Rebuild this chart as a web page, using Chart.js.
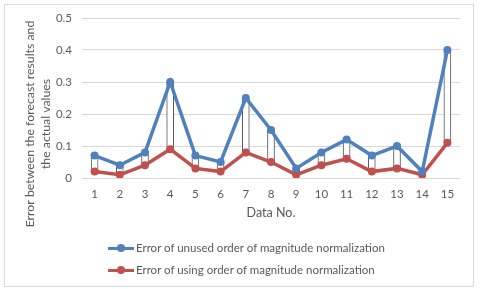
<!DOCTYPE html>
<html>
<head>
<meta charset="utf-8">
<script src="https://cdn.jsdelivr.net/npm/chart.js@4"></script>
<style>
  body { margin: 0; background: #fff; }
  #wrap { position: relative; width: 480px; height: 289px; }
  #frame { position: absolute; left: 4px; top: 4px; width: 468px; height: 281px; border: 1px solid #d9d9d9; }
  #legend { position: absolute; left: 108px; top: 237px; font-family: Lato, sans-serif; font-size: 11.5px; color: #595959; }
  .item { height: 22px; line-height: 16px; display: flex; align-items: center; }
  .swatch { position: relative; width: 26px; height: 8px; margin-right: 2px; }
  .swatch .ln { position: absolute; left: 0; top: 3px; width: 26px; height: 3px; }
  .swatch .dot { position: absolute; left: 9px; top: 0; width: 8px; height: 8px; border-radius: 50%; }
</style>
</head>
<body>
<div id="wrap">
  <div id="frame"></div>
  <canvas id="chart"></canvas>
  <div id="legend"></div>
</div>
<script>
var labels = ['1', '2', '3', '4', '5', '6', '7', '8', '9', '10', '11', '12', '13', '14', '15']
var unusedErr = [0.07, 0.04, 0.08, 0.30, 0.07, 0.05, 0.25, 0.15, 0.03, 0.08, 0.12, 0.07, 0.10, 0.02, 0.40]
var usingErr = [0.02, 0.01, 0.04, 0.09, 0.03, 0.02, 0.08, 0.05, 0.01, 0.04, 0.06, 0.02, 0.03, 0.01, 0.11]
var seriesNames = ['Error of unused order of magnitude normalization', 'Error of using order of magnitude normalization']
var yTitle = ['Error between the forecast results and', 'the actual values']
var xTitle = 'Data No.'

var blue = '#4f81bd'
var red = '#c0504d'
var txt = '#595959'

// up/down bars between the two series
var spans = []
for (var i = 0; i < labels.length; i++) {
  spans.push([usingErr[i], unusedErr[i]])
}

// excel puts the y title a bit below the middle, so draw it by hand
var yTitlePlugin = {
  id: 'yTitle',
  afterDraw: function (chart) {
    var ctx = chart.ctx
    ctx.save()
    ctx.fillStyle = txt
    ctx.font = '12.3px Lato'
    ctx.textAlign = 'center'
    ctx.textBaseline = 'middle'
    var xs = [30, 46]
    for (var n = 0; n < yTitle.length; n++) {
      ctx.save()
      ctx.translate(xs[n], 124)
      ctx.rotate(-Math.PI / 2)
      ctx.fillText(yTitle[n], 0, 0)
      ctx.restore()
    }
    ctx.restore()
  }
}

new Chart(document.getElementById('chart'), {
  type: 'line',
  data: {
    labels: labels,
    datasets: [{
      label: seriesNames[0],
      data: unusedErr,
      borderColor: blue,
      backgroundColor: blue,
      borderWidth: 3.5,
      pointRadius: 4,
      pointBorderWidth: 0,
      order: 1
    }, {
      label: seriesNames[1],
      data: usingErr,
      borderColor: red,
      backgroundColor: red,
      borderWidth: 3.5,
      pointRadius: 4,
      pointBorderWidth: 0,
      order: 2
    }, {
      type: 'bar',
      label: 'updown',
      data: spans,
      backgroundColor: '#ffffff',
      borderColor: '#555555',
      borderWidth: 1,
      borderSkipped: false,
      barThickness: 7,
      order: 3
    }]
  },
  options: {
    responsive: true,
    maintainAspectRatio: false,
    animation: false,
    layout: { padding: { left: 0, right: 20, top: 18, bottom: 67 } },
    plugins: { legend: { display: false }, tooltip: { enabled: false } },
    scales: {
      x: {
        offset: true,
        grid: { display: false },
        border: { display: false },
        ticks: { color: txt, font: { family: 'Lato', size: 11.5 }, padding: 1, maxRotation: 0 },
        title: { display: true, text: xTitle, color: txt, font: { family: 'Lato', size: 12.5 }, padding: { top: 0, bottom: 2 } },
        afterFit: function (s) { s.height = 44 }
      },
      y: {
        min: 0,
        max: 0.5,
        ticks: { stepSize: 0.1, color: txt, font: { family: 'Lato', size: 11.5 }, padding: 10 },
        grid: { color: '#d9d9d9', drawTicks: false },
        border: { display: false },
        afterFit: function (s) { s.width = 82 }
      }
    }
  },
  plugins: [yTitlePlugin]
})

var legend = document.getElementById('legend')
var colors = [blue, red]
for (var k = 0; k < seriesNames.length; k++) {
  var item = document.createElement('div')
  item.className = 'item'
  var sw = document.createElement('span')
  sw.className = 'swatch'
  sw.innerHTML = '<span class="ln" style="background:' + colors[k] + '"></span><span class="dot" style="background:' + colors[k] + '"></span>'
  item.appendChild(sw)
  item.appendChild(document.createTextNode(seriesNames[k]))
  legend.appendChild(item)
}
</script>
</body>
</html>
